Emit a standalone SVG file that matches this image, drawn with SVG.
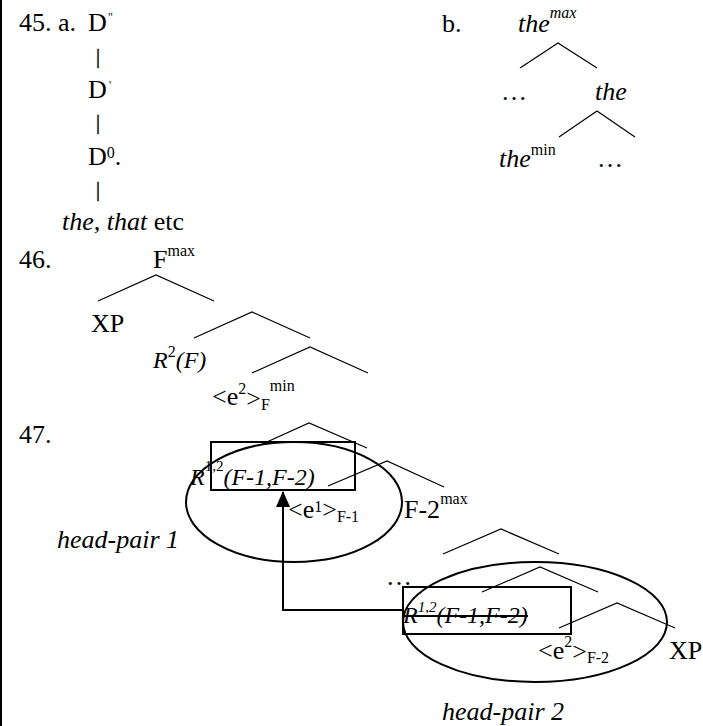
<svg xmlns="http://www.w3.org/2000/svg" width="703" height="726" viewBox="0 0 703 726">
<defs>
<style>
.t{font-family:"Liberation Serif","Times New Roman",serif;font-size:26px;fill:#000}
.i{font-style:italic}
.n{font-style:normal}
.s{font-size:16px}
.r{font-size:24px}
.bar{font-size:20px;stroke:#000;stroke-width:0.4}
.br{stroke:#000;stroke-width:1.2;fill:none}
.hl{stroke:#000;stroke-width:2;fill:none}
</style>
<marker id="ah" markerWidth="16" markerHeight="14" refX="15" refY="7" orient="auto" markerUnits="userSpaceOnUse">
<path d="M0,0 L16,7 L0,14 z" fill="#000"/>
</marker>
</defs>
<rect x="0" y="0" width="703" height="726" fill="#fff"/>
<line x1="1" y1="0" x2="1" y2="726" stroke="#000" stroke-width="2"/>

<!-- 45 a -->
<g id="ex45a-label"><text class="t" x="19" y="31">45. a.</text></g>
<g id="n45a-D2"><text class="t" x="88" y="31">D<tspan x="108" y="21" style="font-size:12px">"</tspan></text></g>
<g id="n45a-bar1"><text class="t bar" x="96" y="63">|</text></g>
<g id="n45a-D1"><text class="t" x="88" y="98">D<tspan x="109" y="89" style="font-size:12px">'</tspan></text></g>
<g id="n45a-bar2"><text class="t bar" x="96" y="129">|</text></g>
<g id="n45a-D0"><text class="t" x="88" y="165">D<tspan class="s" y="158">0</tspan><tspan y="165">.</tspan></text></g>
<g id="n45a-bar3"><text class="t bar" x="96" y="196">|</text></g>
<g id="n45a-the"><text class="t" x="62" y="230"><tspan class="i">the, that</tspan> etc</text></g>

<!-- 45 b -->
<g id="ex45b-label"><text class="t" x="442" y="32">b.</text></g>
<g id="n45b-themax"><text class="t i" x="518" y="32">the<tspan class="s" y="18">max</tspan></text></g>
<g id="n45b-dots1"><text class="t" x="501" y="100">…</text></g>
<g id="n45b-the"><text class="t i" x="595" y="100">the</text></g>
<g id="n45b-themin"><text class="t i" x="499" y="167">the<tspan class="s n" y="155">min</tspan></text></g>
<g id="n45b-dots2"><text class="t" x="597" y="167">…</text></g>

<!-- 46 -->
<g id="ex46-label"><text class="t" x="19" y="268">46.</text></g>
<g id="n46-Fmax"><text class="t" x="153" y="268">F<tspan class="s" y="256">max</tspan></text></g>
<g id="n46-XP"><text class="t" x="91" y="332">XP</text></g>
<g id="n46-R2F"><text class="t r i" x="153" y="368">R<tspan class="s n" y="357">2</tspan><tspan y="368">(F)</tspan></text></g>
<g id="n46-e2"><text class="t" x="212" y="405">&lt;e<tspan class="s" y="394">2</tspan><tspan y="407">&gt;</tspan><tspan class="s" y="410">F</tspan><tspan class="s" y="391">min</tspan></text></g>

<!-- 47 -->
<g id="ex47-label"><text class="t" x="19" y="443">47.</text></g>
<g id="n47-R12-a">
<rect class="hl" x="211" y="442" width="144" height="48"/>
<text class="t r i" x="190" y="485">R<tspan class="n" y="471" style="font-size:15px">1,2</tspan><tspan y="485">(F-1,F-2)</tspan></text>
</g>
<g id="n47-e1"><text class="t" x="288" y="518">&lt;e<tspan class="s" y="512">1</tspan><tspan y="518">&gt;</tspan><tspan class="s" y="522">F-1</tspan></text></g>
<g id="n47-F2max"><text class="t" x="404" y="518">F-2<tspan class="s" y="504">max</tspan></text></g>
<g id="n47-hp1">
<ellipse class="hl" cx="294" cy="502" rx="108" ry="60"/>
<text class="t i" x="57" y="548">head-pair 1</text>
</g>
<g id="n47-dots"><text class="t" x="386" y="585">…</text></g>
<g id="n47-R12-b">
<rect class="hl" x="403" y="587" width="168" height="47"/>
<text class="t r i" x="403" y="623">R<tspan y="612" style="font-size:15px">1,2</tspan><tspan y="623">(F-1,F-2)</tspan></text>
<line x1="403" y1="616" x2="528" y2="616" stroke="#000" stroke-width="1.8"/>
</g>
<g id="n47-e2"><text class="t" x="538" y="659">&lt;e<tspan class="s" y="647">2</tspan><tspan y="660">&gt;</tspan><tspan class="s" y="663">F-2</tspan></text></g>
<g id="n47-XP"><text class="t" x="669" y="659">XP</text></g>
<g id="n47-hp2">
<ellipse class="hl" cx="535" cy="622" rx="132" ry="60"/>
<text class="t i" x="442" y="720">head-pair 2</text>
</g>

<!-- connectors -->
<g id="connectors">
<path class="br" d="M520,68 L558,43 L597,68"/>
<path class="br" d="M559,137 L597,111 L635,137"/>
<path class="br" d="M98,301 L156,275 L214,301"/>
<path class="br" d="M194,338 L252,312 L310,338"/>
<path class="br" d="M252,373 L310,347 L368,373"/>
<path class="br" d="M258,446 L309,423 L367,448"/>
<path class="br" d="M328,486 L387,461 L444,487"/>
<path class="br" d="M443,554 L501,529 L559,554"/>
<path class="br" d="M482,592 L540,567 L598,592"/>
<path class="br" d="M559,628 L617,603 L675,628"/>
<path d="M403,610 H283 V492" stroke="#000" stroke-width="2" fill="none" marker-end="url(#ah)"/>
</g>
</svg>
